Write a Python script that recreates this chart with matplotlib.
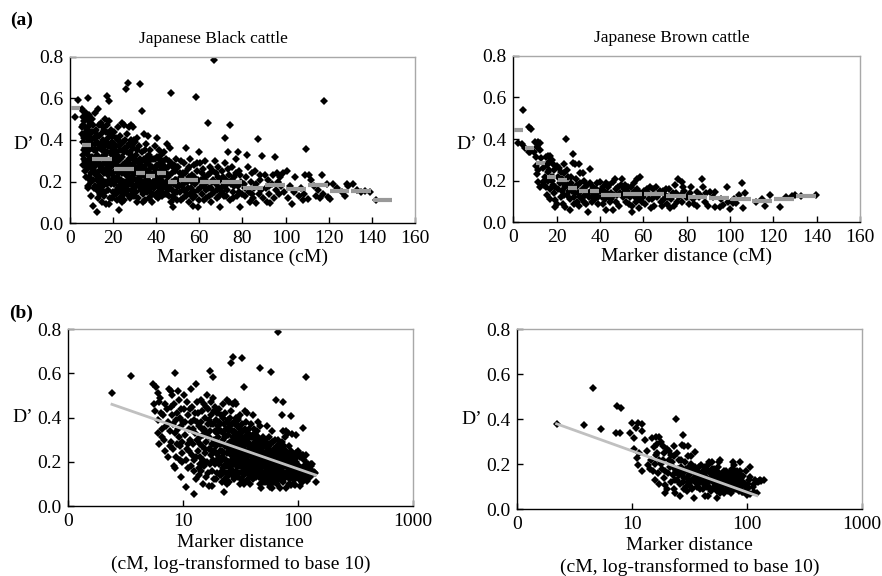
import numpy as np
import matplotlib
matplotlib.use("Agg")
import matplotlib.pyplot as plt

plt.rcParams['font.family'] = ['Liberation Serif', 'DejaVu Serif']

# D' against marker distance (cM), Japanese Black cattle
black_pts = [
    (2.4, 0.51), (3.5, 0.59),
    (5.5, 0.55), (5.8, 0.54), (6.0, 0.51), (6.2, 0.47), (5.7, 0.43), (6.0, 0.39), (6.5, 0.35),
    (6.0, 0.33), (6.8, 0.30), (7.0, 0.25), (7.2, 0.44), (7.5, 0.53), (7.8, 0.52), (8.0, 0.50),
    (8.5, 0.60), (8.3, 0.46), (8.0, 0.41), (8.2, 0.37), (8.5, 0.33), (8.8, 0.28), (8.6, 0.22),
    (8.3, 0.18), (8.5, 0.17), (9.0, 0.52), (9.2, 0.48), (9.5, 0.44), (9.3, 0.40), (9.6, 0.36),
    (9.1, 0.31), (9.4, 0.27), (9.8, 0.24), (9.7, 0.20), (9.5, 0.13), (7.3, 0.38), (7.6, 0.34),
    (6.7, 0.41), (7.9, 0.29), (8.8, 0.42), (6.3, 0.49), (9.9, 0.38), (6.9, 0.46), (7.7, 0.27),
    (5.6, 0.46), (6.1, 0.28), (6.4, 0.42), (6.6, 0.31), (7.1, 0.36), (7.4, 0.22), (7.9, 0.45),
    (8.1, 0.26), (8.7, 0.39), (9.0, 0.35), (9.4, 0.21), (9.8, 0.29),
    (10.5, 0.085), (12.5, 0.055), (10.2, 0.50), (10.8, 0.47), (11.0, 0.41), (11.3, 0.35),
    (11.5, 0.30), (11.2, 0.25), (10.6, 0.21), (11.8, 0.18), (12.0, 0.45), (12.3, 0.39),
    (12.6, 0.33), (12.2, 0.28), (12.8, 0.22), (12.5, 0.16), (13.0, 0.55), (13.4, 0.42),
    (13.7, 0.36), (13.2, 0.30), (13.5, 0.25), (13.9, 0.19), (13.8, 0.14), (14.2, 0.48),
    (14.5, 0.43), (14.3, 0.38), (14.8, 0.32), (14.6, 0.27), (14.1, 0.22), (14.9, 0.10),
    (15.2, 0.46), (15.5, 0.40), (15.3, 0.35), (15.8, 0.29), (15.6, 0.24), (15.1, 0.18),
    (15.9, 0.13), (16.2, 0.50), (16.5, 0.44), (16.3, 0.37), (16.8, 0.31), (16.6, 0.26),
    (16.1, 0.20), (16.9, 0.09), (17.0, 0.61), (17.3, 0.47), (17.5, 0.41), (17.2, 0.34),
    (17.7, 0.28), (17.4, 0.23), (17.8, 0.16), (18.0, 0.585), (18.3, 0.49), (18.5, 0.43),
    (18.2, 0.37), (18.7, 0.30), (18.4, 0.25), (18.9, 0.19), (18.6, 0.12), (19.0, 0.45),
    (19.3, 0.39), (19.6, 0.33), (19.2, 0.27), (19.5, 0.21), (19.8, 0.15), (19.9, 0.36),
    (11.7, 0.53), (10.3, 0.38), (12.9, 0.12), (17.9, 0.09), (11.0, 0.28), (13.1, 0.38),
    (14.0, 0.31), (15.0, 0.21), (16.0, 0.33), (17.0, 0.19), (18.1, 0.28), (19.1, 0.24),
    (10.1, 0.44), (10.4, 0.32), (10.7, 0.26), (10.9, 0.17), (11.4, 0.44), (11.6, 0.38),
    (11.9, 0.23), (12.1, 0.35), (12.4, 0.21), (12.7, 0.42), (13.3, 0.47), (13.6, 0.17),
    (13.9, 0.28), (14.4, 0.16), (14.7, 0.35), (15.4, 0.26), (15.7, 0.45), (16.4, 0.15),
    (16.7, 0.39), (17.1, 0.26), (17.6, 0.37), (18.0, 0.21), (18.8, 0.34), (19.4, 0.29),
    (19.7, 0.42), (19.4, 0.12),
    (20.3, 0.44), (20.6, 0.38), (20.2, 0.31), (20.8, 0.25), (20.5, 0.19), (20.9, 0.14),
    (21.2, 0.41), (21.5, 0.34), (21.3, 0.28), (21.8, 0.22), (21.6, 0.16), (21.9, 0.11),
    (22.5, 0.065), (22.3, 0.46), (22.6, 0.37), (22.2, 0.30), (22.8, 0.24), (22.7, 0.18),
    (23.0, 0.42), (23.4, 0.35), (23.2, 0.27), (23.7, 0.21), (23.5, 0.15), (23.9, 0.10),
    (24.2, 0.48), (24.5, 0.39), (24.3, 0.32), (24.8, 0.26), (24.6, 0.20), (24.1, 0.13),
    (25.2, 0.47), (25.5, 0.36), (25.3, 0.29), (25.8, 0.23), (25.6, 0.17), (26.0, 0.645),
    (26.3, 0.43), (26.5, 0.34), (26.2, 0.27), (26.8, 0.21), (26.6, 0.14), (27.0, 0.675),
    (27.3, 0.46), (27.5, 0.38), (27.2, 0.31), (27.8, 0.25), (27.6, 0.19), (27.9, 0.12),
    (28.2, 0.47), (28.5, 0.40), (28.3, 0.33), (28.8, 0.22), (28.6, 0.16), (29.0, 0.46),
    (29.3, 0.36), (29.6, 0.29), (29.2, 0.24), (29.5, 0.18), (29.8, 0.13), (21.0, 0.20),
    (23.1, 0.12), (25.0, 0.11), (26.9, 0.30), (28.0, 0.28), (22.0, 0.33), (24.0, 0.24),
    (20.1, 0.35), (20.4, 0.22), (20.7, 0.28), (21.1, 0.37), (21.4, 0.14), (21.7, 0.25),
    (22.1, 0.17), (22.4, 0.40), (22.9, 0.21), (23.3, 0.31), (23.6, 0.18), (23.8, 0.38),
    (24.4, 0.28), (24.7, 0.15), (24.9, 0.34), (25.1, 0.20), (25.4, 0.26), (25.7, 0.40),
    (26.1, 0.18), (26.4, 0.24), (26.7, 0.37), (27.1, 0.16), (27.4, 0.22), (27.7, 0.34),
    (28.1, 0.19), (28.4, 0.25), (28.7, 0.37), (28.9, 0.14), (29.1, 0.31), (29.4, 0.21),
    (29.7, 0.26), (29.9, 0.40),
    (30.2, 0.39), (30.5, 0.33), (30.3, 0.27), (30.8, 0.21), (30.6, 0.15), (31.0, 0.10),
    (31.2, 0.41), (31.5, 0.30), (31.3, 0.24), (31.8, 0.18), (31.6, 0.12), (32.5, 0.67),
    (32.2, 0.37), (32.6, 0.28), (32.3, 0.22), (32.8, 0.16), (33.5, 0.54), (33.2, 0.34),
    (33.6, 0.26), (33.3, 0.20), (33.8, 0.14), (34.0, 0.10), (34.3, 0.43), (34.5, 0.31),
    (34.2, 0.23), (34.8, 0.17), (34.6, 0.11), (35.2, 0.38), (35.5, 0.29), (35.3, 0.21),
    (35.8, 0.15), (36.2, 0.42), (36.5, 0.33), (36.3, 0.25), (36.8, 0.19), (36.6, 0.12),
    (37.2, 0.35), (37.5, 0.27), (37.3, 0.20), (37.8, 0.14), (38.2, 0.10), (38.5, 0.31),
    (38.3, 0.23), (38.8, 0.17), (39.2, 0.37), (39.5, 0.26), (39.3, 0.19), (39.8, 0.13),
    (30.1, 0.24), (30.4, 0.18), (30.7, 0.30), (31.1, 0.35), (31.4, 0.21), (31.7, 0.27),
    (32.1, 0.19), (32.4, 0.31), (32.7, 0.25), (33.1, 0.17), (33.4, 0.30), (33.7, 0.23),
    (34.1, 0.27), (34.4, 0.19), (34.7, 0.35), (35.1, 0.25), (35.4, 0.17), (35.7, 0.32),
    (36.1, 0.22), (36.4, 0.29), (36.7, 0.16), (37.1, 0.24), (37.4, 0.31), (37.7, 0.18),
    (38.1, 0.27), (38.4, 0.20), (38.7, 0.14), (39.1, 0.24), (39.4, 0.31), (39.7, 0.21),
    (40.2, 0.41), (40.5, 0.32), (40.3, 0.25), (40.8, 0.18), (40.6, 0.12), (41.2, 0.35),
    (41.5, 0.28), (41.3, 0.21), (41.8, 0.15), (42.2, 0.33), (42.5, 0.26), (42.3, 0.19),
    (42.8, 0.13), (43.2, 0.30), (43.5, 0.23), (43.3, 0.17), (43.8, 0.34), (44.2, 0.27),
    (44.5, 0.20), (44.3, 0.14), (45.0, 0.38), (45.3, 0.22), (45.6, 0.16), (45.9, 0.30),
    (46.2, 0.36), (46.5, 0.19), (46.8, 0.10), (47.0, 0.625), (47.3, 0.24), (47.6, 0.13),
    (47.9, 0.08), (48.2, 0.28), (48.5, 0.21), (48.8, 0.15), (49.2, 0.31), (49.5, 0.18),
    (49.8, 0.11), (40.1, 0.22), (40.4, 0.28), (40.7, 0.15), (41.1, 0.19), (41.4, 0.31),
    (41.7, 0.24), (42.1, 0.17), (42.4, 0.22), (42.7, 0.29), (43.1, 0.20), (43.4, 0.14),
    (43.7, 0.26), (44.1, 0.18), (44.4, 0.31), (44.7, 0.24), (45.1, 0.19), (45.4, 0.27),
    (45.7, 0.13), (46.1, 0.23), (46.4, 0.17), (46.7, 0.29), (47.1, 0.20), (47.4, 0.16),
    (47.7, 0.27), (48.1, 0.19), (48.4, 0.12), (48.7, 0.25), (49.1, 0.21), (49.4, 0.15),
    (49.7, 0.27),
    (50.2, 0.27), (50.6, 0.21), (51.0, 0.15), (51.4, 0.30), (51.8, 0.18), (52.2, 0.12),
    (52.6, 0.24), (53.0, 0.29), (53.4, 0.20), (53.8, 0.36), (54.2, 0.14), (54.6, 0.26),
    (55.0, 0.22), (55.4, 0.10), (55.8, 0.31), (56.2, 0.17), (56.6, 0.23), (57.0, 0.085),
    (57.4, 0.28), (57.8, 0.19), (58.5, 0.605), (58.2, 0.13), (58.9, 0.25), (59.3, 0.16),
    (59.7, 0.34), (59.5, 0.08), (50.4, 0.18), (50.9, 0.24), (51.3, 0.11), (51.7, 0.22),
    (52.4, 0.19), (52.9, 0.16), (53.3, 0.24), (53.7, 0.13), (54.4, 0.20), (54.9, 0.17),
    (55.3, 0.27), (55.7, 0.14), (56.4, 0.20), (56.9, 0.12), (57.3, 0.22), (57.7, 0.15),
    (58.4, 0.20), (58.7, 0.29), (59.4, 0.21), (59.9, 0.11),
    (60.3, 0.29), (60.8, 0.21), (61.3, 0.14), (61.8, 0.26), (62.3, 0.18), (62.8, 0.30),
    (63.3, 0.12), (64.0, 0.48), (63.8, 0.23), (64.3, 0.17), (64.8, 0.27), (65.3, 0.10),
    (65.8, 0.20), (66.3, 0.25), (67.0, 0.785), (66.8, 0.15), (67.3, 0.30), (67.8, 0.19),
    (68.3, 0.12), (68.8, 0.22), (69.3, 0.17), (69.8, 0.08), (60.5, 0.17), (61.0, 0.24),
    (61.5, 0.19), (62.0, 0.11), (62.5, 0.22), (63.0, 0.16), (63.5, 0.20), (64.5, 0.13),
    (65.0, 0.24), (65.5, 0.17), (66.0, 0.14), (66.5, 0.21), (67.5, 0.24), (68.0, 0.16),
    (68.5, 0.27), (69.0, 0.13), (69.5, 0.21),
    (70.3, 0.25), (70.8, 0.18), (71.3, 0.13), (72.0, 0.41), (71.8, 0.29), (72.3, 0.21),
    (72.8, 0.16), (73.3, 0.34), (74.0, 0.47), (73.8, 0.23), (74.3, 0.11), (74.8, 0.19),
    (75.3, 0.27), (75.8, 0.15), (76.3, 0.22), (76.8, 0.31), (77.3, 0.13), (78.0, 0.34),
    (77.8, 0.18), (78.3, 0.25), (78.8, 0.08), (79.3, 0.20), (79.8, 0.14), (70.5, 0.15),
    (71.0, 0.22), (71.5, 0.18), (72.5, 0.13), (73.0, 0.19), (73.5, 0.26), (75.0, 0.21),
    (75.5, 0.12), (76.0, 0.18), (77.0, 0.24), (78.5, 0.15), (79.0, 0.23),
    (80.5, 0.19), (81.0, 0.13), (82.0, 0.33), (81.5, 0.22), (82.5, 0.27), (83.0, 0.15),
    (83.5, 0.10), (84.0, 0.20), (84.5, 0.24), (85.0, 0.12), (85.5, 0.17), (86.0, 0.25),
    (87.0, 0.405), (86.5, 0.095), (87.5, 0.14), (88.0, 0.21), (88.5, 0.16), (89.0, 0.325),
    (89.5, 0.12), (81.2, 0.17), (84.2, 0.14), (86.2, 0.19), (88.2, 0.23),
    (90.5, 0.23), (91.0, 0.17), (91.5, 0.10), (92.0, 0.21), (92.5, 0.14), (93.0, 0.095),
    (93.5, 0.19), (94.0, 0.23), (95.0, 0.32), (94.5, 0.12), (95.5, 0.16), (96.5, 0.20),
    (97.0, 0.14), (97.5, 0.22), (98.0, 0.18), (99.0, 0.24), (99.5, 0.15), (92.2, 0.18),
    (96.0, 0.24),
    (100.5, 0.25), (101.0, 0.12), (102.0, 0.18), (103.0, 0.09), (104.0, 0.15), (104.5, 0.22),
    (106.0, 0.13), (107.0, 0.17), (108.0, 0.11), (109.5, 0.355), (109.0, 0.23), (108.5, 0.14),
    (110.5, 0.115), (111.0, 0.23), (112.0, 0.21), (113.0, 0.18), (114.0, 0.13), (115.0, 0.16),
    (116.0, 0.12), (117.0, 0.23), (118.0, 0.585), (117.5, 0.14), (119.0, 0.19), (119.5, 0.125),
    (120.5, 0.115), (122.0, 0.19), (124.0, 0.17), (126.0, 0.15), (127.5, 0.13), (128.5, 0.19),
    (129.0, 0.18), (131.5, 0.19), (133.0, 0.16), (135.0, 0.15), (137.0, 0.155), (139.0, 0.15),
    (142.0, 0.11),
]

# D' against marker distance (cM), Japanese Brown cattle
brown_pts = [
    (2.2, 0.38), (3.8, 0.376), (4.6, 0.54), (5.4, 0.355),
    (7.4, 0.46), (8.0, 0.45), (7.3, 0.34), (7.8, 0.34),
    (10.0, 0.385), (11.2, 0.385), (12.3, 0.38), (10.8, 0.36), (9.5, 0.34), (10.3, 0.315),
    (12.3, 0.35), (13.0, 0.31), (10.3, 0.27), (11.5, 0.25), (11.1, 0.23), (11.2, 0.195),
    (12.3, 0.17), (13.8, 0.195), (14.5, 0.22), (13.5, 0.26),
    (15.0, 0.315), (16.0, 0.32), (17.0, 0.32), (17.7, 0.30), (15.4, 0.275), (18.5, 0.28),
    (20.0, 0.27), (16.5, 0.29), (19.0, 0.25), (16.2, 0.24), (15.8, 0.20), (17.3, 0.22),
    (18.2, 0.18), (19.2, 0.17), (15.7, 0.13), (17.0, 0.11), (19.2, 0.107), (20.3, 0.09),
    (19.2, 0.072), (17.7, 0.20), (16.8, 0.16), (18.8, 0.14), (15.2, 0.17), (16.5, 0.25),
    (18.5, 0.22), (14.2, 0.18),
    (24.3, 0.40), (21.5, 0.19), (22.3, 0.21), (20.8, 0.22), (23.4, 0.235), (24.6, 0.25),
    (25.4, 0.22), (23.0, 0.088), (23.8, 0.072), (26.0, 0.06), (21.0, 0.26), (22.5, 0.15),
    (24.0, 0.17), (21.8, 0.12), (23.2, 0.28), (24.8, 0.13), (22.8, 0.19), (20.5, 0.16),
    (22.0, 0.24), (23.5, 0.13), (25.0, 0.18),
    (27.7, 0.33), (28.5, 0.28), (27.4, 0.285), (30.5, 0.28), (30.8, 0.235), (32.3, 0.235),
    (35.4, 0.255), (34.6, 0.05), (26.5, 0.19), (27.0, 0.15), (28.0, 0.12), (28.8, 0.17),
    (29.5, 0.10), (30.0, 0.14), (31.0, 0.19), (31.5, 0.11), (32.0, 0.16), (33.0, 0.13),
    (33.5, 0.09), (34.0, 0.18), (35.0, 0.12), (36.0, 0.15), (36.5, 0.10), (37.0, 0.17),
    (38.0, 0.13), (38.5, 0.19), (39.0, 0.09), (39.5, 0.15), (26.8, 0.22), (29.0, 0.21),
    (32.8, 0.20), (37.5, 0.11), (28.2, 0.09), (30.3, 0.08), (25.5, 0.15), (26.2, 0.11),
    (27.3, 0.17), (28.5, 0.14), (29.2, 0.18), (30.6, 0.12), (31.2, 0.15), (32.5, 0.10),
    (33.2, 0.17), (34.5, 0.14), (35.5, 0.19), (36.2, 0.12), (37.2, 0.14), (38.2, 0.16),
    (39.2, 0.12),
    (40.0, 0.195), (43.0, 0.19), (46.0, 0.195), (47.0, 0.21), (43.8, 0.17), (43.0, 0.06),
    (46.0, 0.06), (41.0, 0.12), (42.0, 0.15), (44.5, 0.10), (45.0, 0.14), (48.0, 0.13),
    (49.0, 0.08), (41.5, 0.09), (47.5, 0.16), (44.0, 0.12), (49.5, 0.18), (42.5, 0.11),
    (40.5, 0.15), (41.2, 0.17), (42.2, 0.13), (43.3, 0.14), (44.3, 0.18), (45.3, 0.11),
    (46.3, 0.13), (47.2, 0.10), (48.3, 0.17), (49.2, 0.14),
    (50.0, 0.21), (54.6, 0.05), (58.5, 0.22), (57.0, 0.21), (51.0, 0.14), (52.0, 0.10),
    (53.0, 0.17), (54.0, 0.12), (55.0, 0.08), (56.0, 0.15), (57.5, 0.11), (59.0, 0.13),
    (51.5, 0.18), (53.5, 0.09), (55.5, 0.19), (58.0, 0.07), (52.5, 0.13), (56.5, 0.10),
    (50.5, 0.12), (51.3, 0.16), (52.3, 0.15), (53.3, 0.13), (54.3, 0.17), (55.3, 0.14),
    (56.3, 0.12), (57.3, 0.16), (58.3, 0.14), (59.3, 0.10),
    (63.0, 0.17), (66.0, 0.17), (60.0, 0.12), (61.0, 0.09), (62.0, 0.14), (64.0, 0.11),
    (65.0, 0.08), (67.0, 0.13), (68.0, 0.10), (69.0, 0.15), (61.5, 0.16), (63.5, 0.07),
    (66.5, 0.12), (68.5, 0.08), (60.5, 0.15), (62.5, 0.11), (64.5, 0.16), (65.5, 0.13),
    (67.5, 0.15), (69.5, 0.11),
    (76.0, 0.21), (77.7, 0.195), (70.0, 0.13), (71.0, 0.09), (72.0, 0.16), (73.0, 0.11),
    (74.0, 0.08), (75.0, 0.14), (76.5, 0.12), (78.0, 0.10), (79.0, 0.15), (72.5, 0.07),
    (74.5, 0.18), (78.5, 0.17), (70.5, 0.16), (71.5, 0.12), (73.5, 0.14), (75.5, 0.10),
    (77.5, 0.13), (79.5, 0.12),
    (87.0, 0.21), (87.7, 0.17), (82.0, 0.17), (84.6, 0.147), (80.0, 0.12), (81.0, 0.09),
    (83.0, 0.11), (85.0, 0.08), (86.0, 0.13), (88.5, 0.10), (89.0, 0.14), (81.5, 0.14),
    (83.5, 0.09), (85.5, 0.12),
    (90.8, 0.147), (93.0, 0.147), (98.5, 0.17), (93.0, 0.075), (95.4, 0.075), (97.0, 0.083),
    (90.0, 0.078), (92.0, 0.12), (96.0, 0.11), (99.0, 0.10),
    (105.4, 0.187), (107.0, 0.142), (106.0, 0.067), (100.0, 0.062), (101.5, 0.094),
    (103.0, 0.094), (102.0, 0.11), (104.0, 0.13),
    (116.0, 0.078), (114.6, 0.11), (118.5, 0.13), (112.0, 0.10),
    (123.0, 0.072), (126.0, 0.123), (128.5, 0.126), (130.0, 0.13), (133.0, 0.126), (139.7, 0.13),
]

# mean D' in distance classes (start, end, mean)
black_bin_lo = [0, 5, 10, 20, 30, 35, 40, 45, 50, 60, 70, 80, 90, 100, 110, 120, 130, 140]
black_bin_hi = [5, 10, 20, 30, 35, 40, 45, 50, 60, 70, 80, 90, 100, 110, 120, 130, 140, 150]
black_bin_mean = [0.555, 0.376, 0.309, 0.259, 0.243, 0.227, 0.24, 0.2, 0.208, 0.2, 0.2,
                  0.168, 0.184, 0.163, 0.184, 0.157, 0.157, 0.112]

brown_bin_lo = [0, 5, 10, 15, 20, 25, 30, 35, 40, 50, 60, 70, 80, 90, 100, 110, 120, 130]
brown_bin_hi = [5, 10, 15, 20, 25, 30, 35, 40, 50, 60, 70, 80, 90, 100, 110, 120, 130, 140]
brown_bin_mean = [0.443, 0.355, 0.283, 0.219, 0.203, 0.166, 0.152, 0.152, 0.131, 0.134,
                  0.134, 0.126, 0.123, 0.115, 0.114, 0.102, 0.112, 0.128]

# regression of D' on log10 distance
black_fit_cm = [2.4, 142]
black_fit_d = [0.46, 0.14]
brown_fit_cm = [2.2, 122]
brown_fit_d = [0.38, 0.06]

black_cm, black_d = np.array(black_pts).T
brown_cm, brown_d = np.array(brown_pts).T

fig = plt.figure(figsize=(8.82, 5.76), dpi=100)

def frame(ax):
    for s in ['top', 'right']:
        ax.spines[s].set_color('#a8a8a8')
    for s in ['left', 'bottom']:
        ax.spines[s].set_color('black')
    for s in ax.spines.values():
        s.set_linewidth(1.0)
    ax.tick_params(direction='in', length=4, width=1, labelsize=14, pad=5)
    ax.set_ylim(0, 0.8)
    ax.set_yticks([0, 0.2, 0.4, 0.6, 0.8])
    ax.set_yticklabels(['0.0', '0.2', '0.4', '0.6', '0.8'])

def dots(ax, x, y):
    ax.plot(x, y, 'D', color='black', markersize=4.0, markeredgewidth=0, zorder=2)

# (a) linear distance
pos_a = [[0.0794, 0.6125, 0.391, 0.289], [0.582, 0.614, 0.393, 0.289]]
data_a = [(black_cm, black_d, black_bin_lo, black_bin_hi, black_bin_mean, 'Japanese Black cattle', 0.417),
          (brown_cm, brown_d, brown_bin_lo, brown_bin_hi, brown_bin_mean, 'Japanese Brown cattle', 0.458)]
for p, (x, y, lo, hi, m, title, tx) in zip(pos_a, data_a):
    ax = fig.add_axes(p)
    frame(ax)
    dots(ax, x, y)
    ax.hlines(m, np.array(lo) + 0.4, np.array(hi) - 0.4, color='#999999', linewidth=3, zorder=3)
    ax.set_xlim(0, 160)
    ax.set_xticks(range(0, 161, 20))
    ax.set_xlabel('Marker distance (cM)', fontsize=14, labelpad=1)
    ax.text(tx, 1.105, title, transform=ax.transAxes, ha='center', va='center', fontsize=12.5)
    ax.text(-0.135, 0.47, 'D’', transform=ax.transAxes, ha='center', va='center', fontsize=14)

# (b) log10 distance
pos_b = [[0.0774, 0.1215, 0.391, 0.307], [0.5865, 0.116, 0.3905, 0.312]]
data_b = [(black_cm, black_d, black_fit_cm, black_fit_d),
          (brown_cm, brown_d, brown_fit_cm, brown_fit_d)]
for p, (x, y, fx, fy) in zip(pos_b, data_b):
    ax = fig.add_axes(p)
    frame(ax)
    dots(ax, x, y)
    ax.plot(fx, fy, color='#c0c0c0', linewidth=2, zorder=3)
    ax.set_xscale('log')
    ax.set_xlim(1, 1000)
    ax.set_xticks([1, 10, 100, 1000])
    ax.set_xticklabels(['0', '10', '100', '1000'])
    ax.minorticks_off()
    ax.set_xlabel('Marker distance\n(cM, log-transformed to base 10)', fontsize=14,
                  labelpad=3, linespacing=1.25)
    ax.text(-0.133, 0.5, 'D’', transform=ax.transAxes, ha='center', va='center', fontsize=14)

fig.text(0.012, 0.965, '(a)', fontsize=14, fontweight='bold', va='center')
fig.text(0.010, 0.456, '(b)', fontsize=14, fontweight='bold', va='center')

fig.savefig('out.png', dpi=100)
